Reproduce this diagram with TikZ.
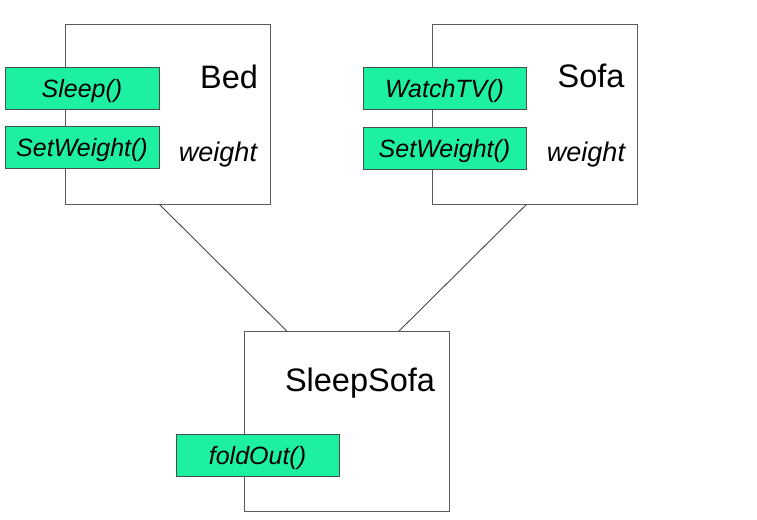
\documentclass[tikz,border=0pt]{standalone}
\usepackage{fontspec}
\setmainfont{Liberation Sans}
\usepackage{xcolor}
\definecolor{Col1}{RGB}{30,240,162}
\definecolor{Col2}{RGB}{70,80,75}
\definecolor{Col5}{RGB}{90,90,90}
\usetikzlibrary{calc}
\tikzstyle{Class}=[rectangle,draw=Col5,fill=white,line width=0.9pt,
minimum width=205pt,minimum height=180pt,inner sep=0pt]
\tikzstyle{Method}=[rectangle,draw=Col2,fill=Col1,line width=0.9pt,
minimum height=42pt,inner sep=0pt,text height=18pt,text depth=0pt,
font=\fontsize{25}{30}\selectfont\itshape]
\tikzstyle{Title}=[font=\fontsize{32.5}{38}\selectfont,inner sep=0pt]
\tikzstyle{Attr}=[font=\fontsize{27}{32}\selectfont\itshape,inner sep=0pt]
\tikzstyle{Edge}=[draw=Col5!80!black,line width=0.9pt]

\begin{document}
\begin{tikzpicture}[x=1pt,y=-1pt]
            \useasboundingbox(0,0)rectangle(757,519);
            \node[Class](bed)at(167.5,114){};
            \node[Class](sofa)at(534.5,114){};
            \node[Class](sleepsofa)at(346.5,421.5){};
            %
            \node[Title](bedT)at(229,77){Bed};
            \node[Attr](bedA)at(218,155){weight};
            \node[Title](sofaT)at(591,76){Sofa};
            \node[Attr](sofaA)at(586,155){weight};
            \node[Title](sleepsofaT)at(360,383){SleepSofa};
            %
            \node[Method,minimum width=154pt](sleep)at(82,88)
                {Sleep()};
            \node[Method,minimum width=154pt](bedW)at(82,147.5)
                {SetWeight()};
            \node[Method,minimum width=163pt](watch)at(444.5,88.5)
                {WatchTV()};
            \node[Method,minimum width=163pt](sofaW)at(444.5,148)
                {SetWeight()};
            \node[Method,minimum width=163pt](fold)at(257.5,455)
                {foldOut()};
            %
            \draw[Edge](sleep.east|-bed.south)--
                ($(sleepsofa.north west)!0.21!(sleepsofa.north east)$);
            \draw[Edge](watch.east|-sofa.south)--
                ($(sleepsofa.north west)!0.755!(sleepsofa.north east)$);
        \end{tikzpicture}
\end{document}
